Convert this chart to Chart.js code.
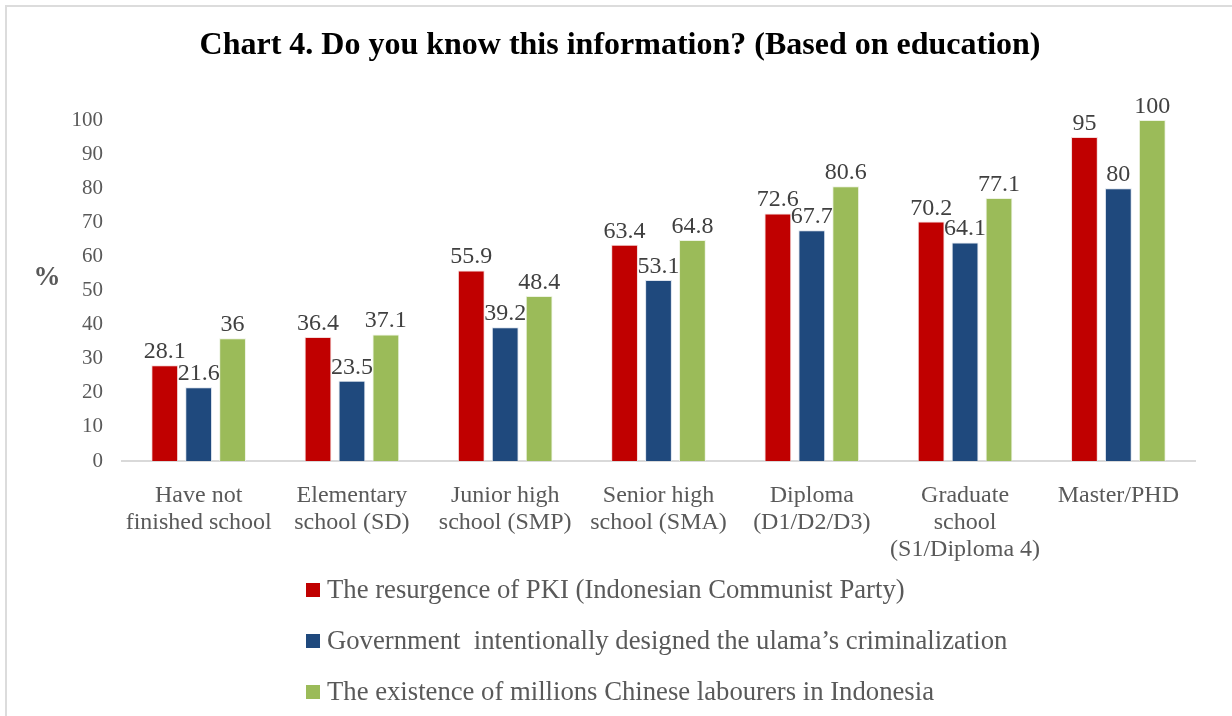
<!DOCTYPE html>
<html>
<head>
<meta charset="utf-8">
<title>Chart 4</title>
<script src="https://cdn.jsdelivr.net/npm/chart.js@4/dist/chart.umd.min.js"></script>
<style>
  html, body { margin: 0; padding: 0; background: #fff; }
  #wrap { position: relative; width: 1232px; height: 716px; }
  #frame {
    position: absolute; left: 5px; top: 5px; right: 0; bottom: 0;
    border-left: 2px solid #dcdcdc; border-top: 2px solid #dcdcdc;
    pointer-events: none;
  }
</style>
</head>
<body>
<div id="wrap">
  <canvas id="chart4" width="1232" height="716"></canvas>
  <div id="frame"></div>
</div>
<script>
// education levels (x axis)
const levels = [
  ["Have not", "finished school"],
  ["Elementary", "school (SD)"],
  ["Junior high", "school (SMP)"],
  ["Senior high", "school (SMA)"],
  ["Diploma", "(D1/D2/D3)"],
  ["Graduate", "school", "(S1/Diploma 4)"],
  ["Master/PHD"]
];

// % who know each piece of information
const pki = [28.1, 36.4, 55.9, 63.4, 72.6, 70.2, 95];
const ulama = [21.6, 23.5, 39.2, 53.1, 67.7, 64.1, 80];
const labourers = [36, 37.1, 48.4, 64.8, 80.6, 77.1, 100];

const yTicks = [0, 10, 20, 30, 40, 50, 60, 70, 80, 90, 100];

const chartTitle = "Chart 4. Do you know this information? (Based on education)";

const serif = "'Liberation Serif', 'Times New Roman', serif";

// value above each bar
const valueLabels = {
  id: "valueLabels",
  afterDatasetsDraw(chart) {
    const ctx = chart.ctx;
    ctx.save();
    ctx.font = "24px " + serif;
    ctx.fillStyle = "#404040";
    ctx.textAlign = "center";
    ctx.textBaseline = "alphabetic";
    chart.data.datasets.forEach((ds, i) => {
      chart.getDatasetMeta(i).data.forEach((bar, j) => {
        ctx.fillText(String(ds.data[j]), bar.x, bar.y - 7);
      });
    });
    ctx.restore();
  }
};

// title centred on the page, "%" axis label and the stacked legend
const extras = {
  id: "extras",
  afterDraw(chart) {
    const ctx = chart.ctx;
    ctx.save();
    ctx.fillStyle = "#000";
    ctx.font = "bold 32px " + serif;
    ctx.textAlign = "center";
    ctx.textBaseline = "middle";
    ctx.fillText(chartTitle, 620, 46);

    ctx.fillStyle = "#595959";
    ctx.font = "bold 27px " + serif;
    ctx.fillText("%", 47, 278);

    ctx.font = "26.7px " + serif;
    ctx.textAlign = "left";
    chart.data.datasets.forEach((ds, i) => {
      const y = 590 + i * 51;
      ctx.fillStyle = ds.backgroundColor;
      ctx.fillRect(306, y - 7, 14, 14);
      ctx.fillStyle = "#595959";
      ctx.fillText(ds.label, 327, y + 1);
    });
    ctx.restore();
  }
};

new Chart(document.getElementById("chart4"), {
  type: "bar",
  data: {
    labels: levels,
    datasets: [
      {
        label: "The resurgence of PKI (Indonesian Communist Party)",
        data: pki,
        backgroundColor: "#C00000",
        borderColor: "#f4dada",
        borderWidth: 1
      },
      {
        label: "Government  intentionally designed the ulama\u2019s criminalization",
        data: ulama,
        backgroundColor: "#1F497D",
        borderColor: "#dde4ee",
        borderWidth: 1
      },
      {
        label: "The existence of millions Chinese labourers in Indonesia",
        data: labourers,
        backgroundColor: "#9BBB59",
        borderColor: "#edf3e2",
        borderWidth: 1
      }
    ]
  },
  options: {
    responsive: false,
    animation: false,
    layout: { padding: { left: 0, right: 37, top: 120, bottom: 0 } },
    datasets: { bar: { categoryPercentage: 0.664, barPercentage: 0.79 } },
    plugins: {
      legend: { display: false },
      tooltip: { enabled: false },
      title: { display: false }
    },
    scales: {
      x: {
        grid: { display: false },
        border: { color: "#d9d9d9", width: 2 },
        ticks: {
          color: "#595959",
          font: { family: serif, size: 24, lineHeight: 1.13 },
          padding: 13,
          maxRotation: 0,
          autoSkip: false
        },
        afterFit(scale) { scale.height = 255; }
      },
      y: {
        min: 0,
        max: 100,
        grid: { display: false },
        border: { display: false },
        afterBuildTicks(scale) { scale.ticks = yTicks.map(v => ({ value: v })); },
        ticks: {
          color: "#595959",
          font: { family: serif, size: 21 },
          padding: 11
        },
        afterFit(scale) { scale.width = 122; }
      }
    }
  },
  plugins: [valueLabels, extras]
});
</script>
</body>
</html>
